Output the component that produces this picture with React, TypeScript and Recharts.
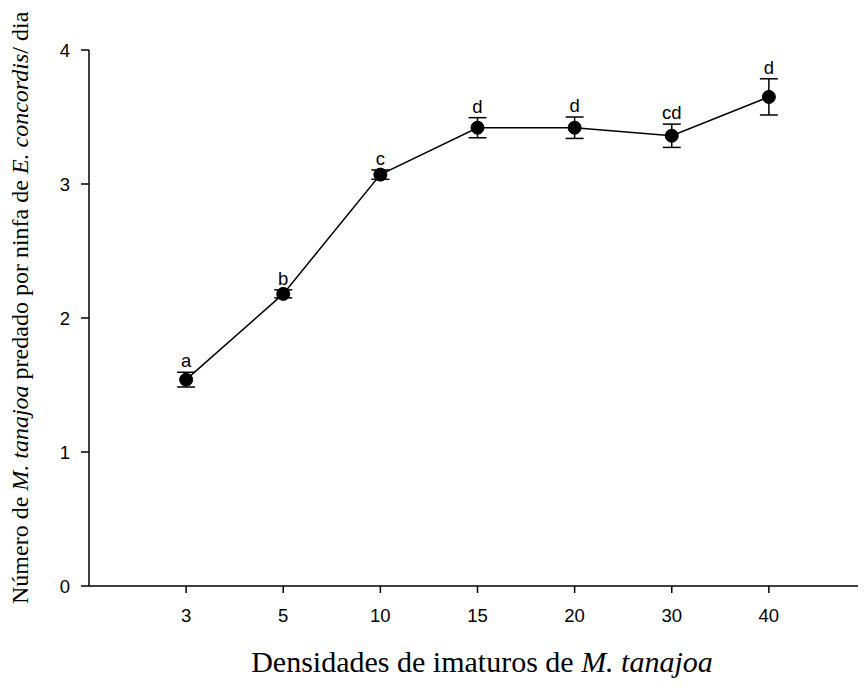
import React from 'react';
import { LineChart, Line, XAxis, YAxis, ErrorBar, LabelList } from 'recharts';

const densities = ['3', '5', '10', '15', '20', '30', '40'];
const means = [1.54, 2.18, 3.07, 3.42, 3.42, 3.36, 3.65];
const errors = [0.055, 0.03, 0.035, 0.075, 0.08, 0.087, 0.135];
const letters = ['a', 'b', 'c', 'd', 'd', 'cd', 'd'];
const yTicks = [0, 1, 2, 3, 4];
const xPositions = [1, 2, 3, 4, 5, 6, 7];

const data = densities.map((d, i) => ({
  pos: xPositions[i],
  label: d,
  mean: means[i],
  err: errors[i],
  top: means[i] + errors[i],
  letter: letters[i],
}));

const sans = '"Liberation Sans", Arial, sans-serif';
const serif = '"Liberation Serif", "Times New Roman", serif';

export default function App() {
  return (
    <div style={{ width: 858, height: 679, position: 'relative' }}>
      <LineChart
        width={858}
        height={679}
        data={data}
        margin={{ top: 42, right: 0, bottom: 41, left: 0 }}
      >
        <XAxis
          type="number"
          dataKey="pos"
          domain={[0, 7.9]}
          ticks={xPositions}
          tickFormatter={(v: number) => densities[v - 1]}
          height={60}
          stroke="#000"
          strokeWidth={1.5}
          tickSize={7}
          tickMargin={16}
          tick={{ fill: '#000', fontFamily: sans, fontSize: 18.5 }}
          allowDecimals={false}
        />
        <YAxis
          type="number"
          domain={[0, 4]}
          ticks={yTicks}
          width={81}
          stroke="#000"
          strokeWidth={1.5}
          tickSize={8}
          tickMargin={11}
          tick={{ fill: '#000', fontFamily: sans, fontSize: 18.5 }}
        />
        <Line
          dataKey="mean"
          stroke="#000"
          strokeWidth={1.5}
          isAnimationActive={false}
          dot={{ r: 6.5, fill: '#000', stroke: '#000', strokeWidth: 1 }}
          activeDot={false}
        >
          <ErrorBar dataKey="err" direction="y" width={9} stroke="#000" strokeWidth={1.5} />
        </Line>
        <Line
          dataKey="top"
          stroke="none"
          dot={false}
          activeDot={false}
          isAnimationActive={false}
        >
          <LabelList
            dataKey="letter"
            position="top"
            offset={5}
            fill="#000"
            fontFamily={sans}
            fontSize={18.5}
          />
        </Line>
        <text x={474} y={664} textAnchor="middle" fontFamily={serif} fontSize={30} fill="#000">
          Densidades de imaturos de <tspan fontStyle="italic">M. tanajoa</tspan>
        </text>
        <text
          x={20}
          y={596}
          transform="rotate(-90 20 596)"
          textAnchor="start"
          fontFamily={serif}
          fontSize={24}
          fill="#000"
        >
          Número de <tspan fontStyle="italic">M. tanajoa</tspan> predado por ninfa de{' '}
          <tspan fontStyle="italic">E. concordis</tspan>/ dia
        </text>
      </LineChart>
    </div>
  );
}
